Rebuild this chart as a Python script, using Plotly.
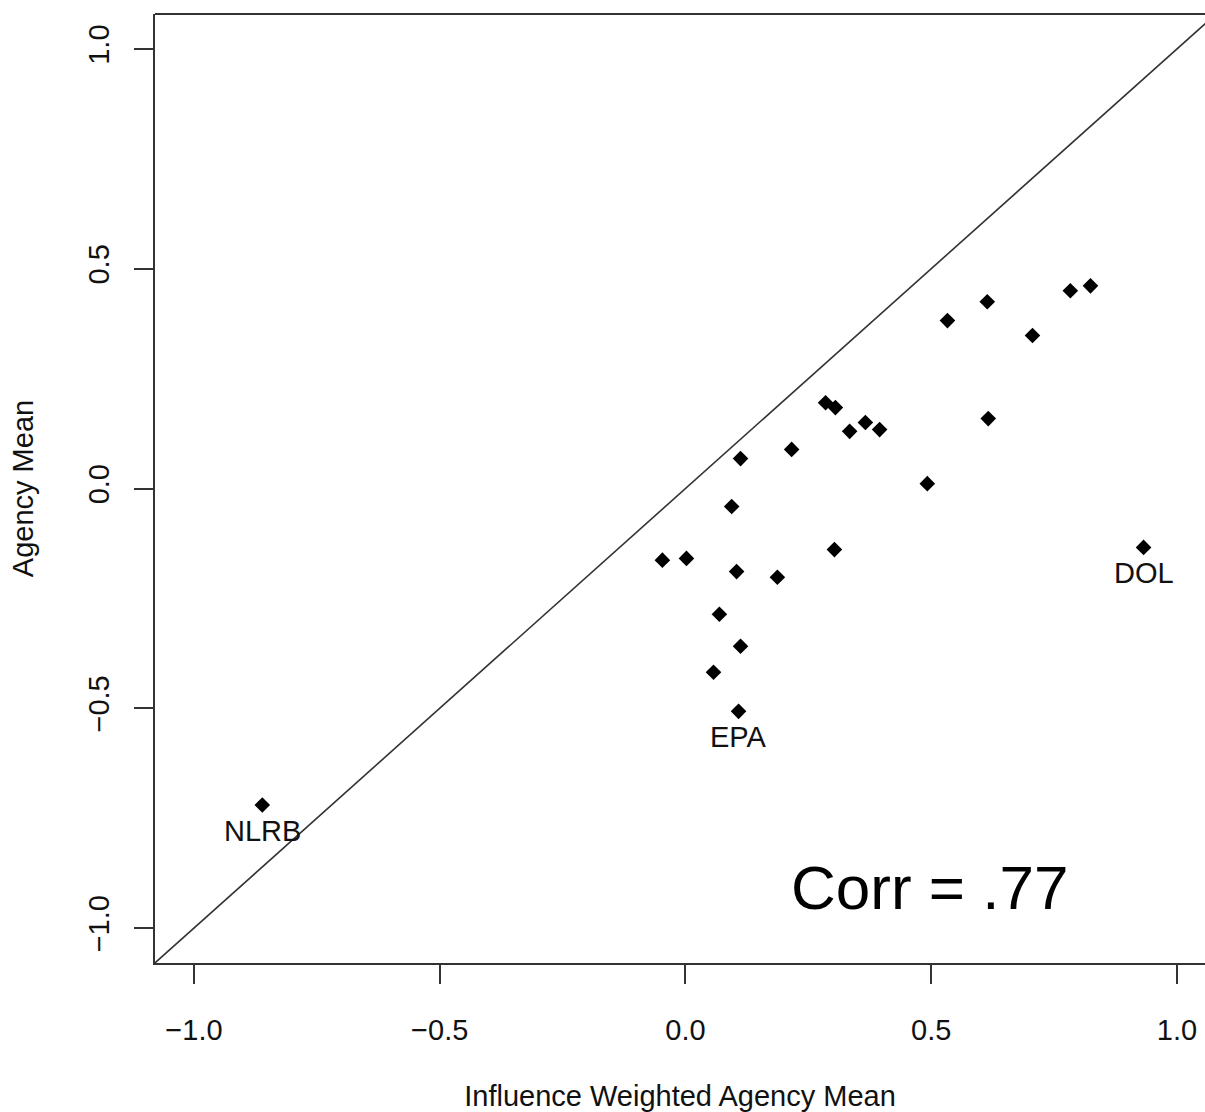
import plotly.graph_objects as go

# Influence weighted agency mean (x) vs agency mean (y)
x_vals = [-0.861, 0.108, 0.932, -0.047, 0.002, 0.094, 0.112, 0.104, 0.187, 0.069,
          0.112, 0.057, 0.216, 0.285, 0.305, 0.334, 0.366, 0.395, 0.303, 0.492,
          0.533, 0.614, 0.616, 0.706, 0.783, 0.824]
y_vals = [-0.720, -0.507, -0.134, -0.163, -0.159, -0.041, 0.068, -0.189, -0.202, -0.286,
          -0.359, -0.418, 0.089, 0.195, 0.184, 0.130, 0.150, 0.134, -0.139, 0.011,
          0.382, 0.425, 0.159, 0.348, 0.450, 0.461]
labels = ["NLRB", "EPA", "DOL"] + [""] * 23

tick_vals = [-1.0, -0.5, 0.0, 0.5, 1.0]
tick_text = ["\u22121.0", "\u22120.5", "0.0", "0.5", "1.0"]

x_range = [-1.0793, 1.0570]
y_range = [-1.0795, 1.0795]

FONT = "Liberation Sans, Arial, Helvetica, sans-serif"
INK = "#111111"
FS = 29

fig = go.Figure()

# 45-degree reference line y = x across the axis range
diag = [-1.2, 1.2]
fig.add_trace(go.Scatter(x=diag, y=diag, mode="lines",
                         line=dict(color="#333333", width=1.6),
                         hoverinfo="skip", showlegend=False))

fig.add_trace(go.Scatter(x=x_vals, y=y_vals, mode="markers",
                         marker=dict(symbol="diamond", size=12, color="black",
                                     line=dict(width=0)),
                         showlegend=False))

annotations = []
for xv, yv, lab in zip(x_vals, y_vals, labels):
    if lab:
        annotations.append(dict(x=xv, y=yv, xref="x", yref="y", text=lab,
                                showarrow=False, yshift=-26,
                                font=dict(family=FONT, size=FS, color=INK)))

annotations.append(dict(x=0.496, y=-0.907, xref="x", yref="y", text="Corr = .77",
                        showarrow=False, xanchor="center", yanchor="middle",
                        font=dict(family=FONT, size=62, color="black")))

fig.update_layout(
    width=1205, height=1112,
    margin=dict(l=155, r=0, t=14, b=149),
    paper_bgcolor="white", plot_bgcolor="white",
    font=dict(family=FONT, size=FS, color=INK),
    annotations=annotations,
    shapes=[dict(type="line", xref="paper", yref="paper", x0=0, x1=1, y0=1, y1=1,
                 line=dict(color="#333333", width=1.8))],
)

fig.update_xaxes(range=x_range, tickvals=tick_vals, ticktext=tick_text,
                 showgrid=False, zeroline=False,
                 showline=True, linecolor="#333333", linewidth=1.8,
                 ticks="outside", ticklen=19, tickwidth=1.6, tickcolor="#333333",
                 ticklabelstandoff=21,
                 tickfont=dict(family=FONT, size=FS, color=INK),
                 title=dict(text="Influence Weighted Agency Mean", standoff=41,
                            font=dict(family=FONT, size=FS, color=INK)))

fig.update_yaxes(range=y_range, tickvals=tick_vals, ticktext=tick_text,
                 showgrid=False, zeroline=False,
                 showline=True, linecolor="#333333", linewidth=1.8,
                 ticks="outside", ticklen=19, tickwidth=1.6, tickcolor="#333333",
                 tickangle=-90, ticklabelstandoff=14,
                 tickfont=dict(family=FONT, size=FS, color=INK),
                 title=dict(text="Agency Mean", standoff=40,
                            font=dict(family=FONT, size=FS, color=INK)))

fig.write_html("out.html")
